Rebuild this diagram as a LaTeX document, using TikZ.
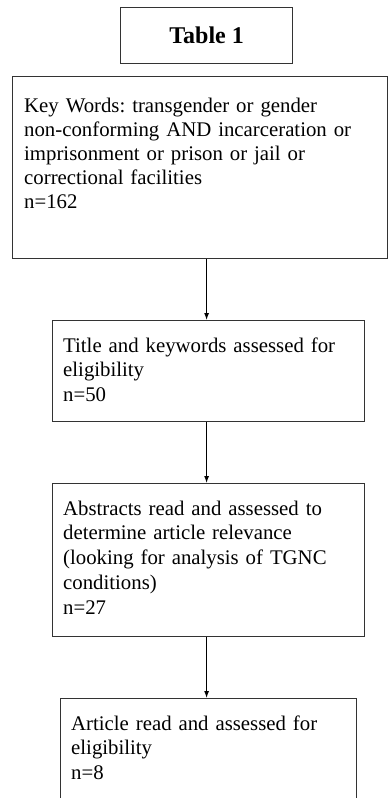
\documentclass[tikz,border=0pt]{standalone}
\usepackage{fontspec}
\setmainfont{Liberation Serif}
\usetikzlibrary{arrows.meta}
\frenchspacing
\begin{document}
\begin{tikzpicture}[x=1bp,y=-1bp,
  box/.style={draw=black!80, line width=1.2bp, rectangle, inner sep=0pt, anchor=north west},
  txt/.style={anchor=base west, inner sep=0pt, align=left, text width=#1, font=\fontsize{20.8bp}{24.8bp}\selectfont},
  link/.style={draw=black, line width=1bp, -{Latex[length=7bp,width=5bp]}}]
\clip (0,0) rectangle (388,798);
\fill[white] (0,0) rectangle (388,798);
% boxes
\node[box, minimum width=172bp, minimum height=56bp] (tbl) at (120,7) {};
\node[font=\fontsize{24bp}{28bp}\selectfont\bfseries, inner sep=0pt] (tbltxt) at (tbl.center) {Table 1};
\node[box, minimum width=374.5bp, minimum height=182bp] (key) at (12,76) {};
\node[box, minimum width=312bp, minimum height=101bp] (b2) at (52,320) {};
\node[box, minimum width=312bp, minimum height=153bp] (b3) at (52,483) {};
\node[box, minimum width=296bp, minimum height=140bp] (b4) at (60,698) {};
% texts
\node[txt=355bp, font=\fontsize{20.8bp}{24.1bp}\selectfont] (keytxt) at (24,112) {Key Words: transgender or gender\\non-conforming AND incarceration or\\imprisonment or prison or jail or\\correctional facilities\\n=162};
\node[txt=295bp] (b2txt) at (63,352) {Title and keywords assessed for\\eligibility\\n=50};
\node[txt=295bp] (b3txt) at (63,515) {Abstracts read and assessed to\\determine article relevance\\(looking for analysis of TGNC\\conditions)\\n=27};
\node[txt=280bp] (b4txt) at (71,730) {Article read and assessed for\\eligibility\\n=8};
% connectors
\draw[link] (key.south -| tbl.center) -- (b2.north -| tbl.center);
\draw[link] (b2.south -| tbl.center) -- (b3.north -| tbl.center);
\draw[link] (b3.south -| tbl.center) -- (b4.north -| tbl.center);
\end{tikzpicture}
\end{document}
